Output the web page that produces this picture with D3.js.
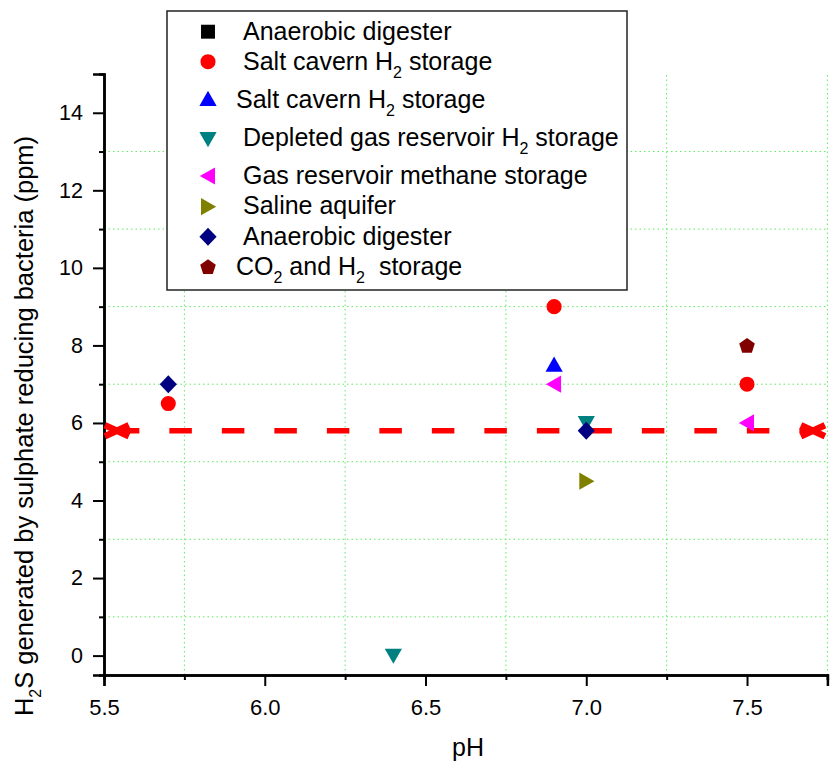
<!DOCTYPE html>
<html lang="en">
<head>
  <meta charset="UTF-8">
  <title>H2S vs pH</title>
  <script src="https://d3js.org/d3.v7.min.js"></script>
  <style>
    body { margin: 0; padding: 0; background: #fff; }
    svg { display: block; font-family: "Liberation Sans", Arial, sans-serif; }
  </style>
</head>
<body>
  <div id="vis"></div>
  <script>
    const width = 833, height = 765;

    // data
    const xMajorTicks = [5.5, 6.0, 6.5, 7.0, 7.5];
    const xMinorTicks = [5.75, 6.25, 6.75, 7.25, 7.75];
    const yMajorTicks = [0, 2, 4, 6, 8, 10, 12, 14];
    const yMinorTicks = [1, 3, 5, 7, 9, 11, 13];

    const seriesNames = [
      [["Anaerobic digester"]],
      [["Salt cavern H"], ["2", true], [" storage"]],
      [["Salt cavern H"], ["2", true], [" storage"]],
      [["Depleted gas reservoir H"], ["2", true], [" storage"]],
      [["Gas reservoir methane storage"]],
      [["Saline aquifer"]],
      [["Anaerobic digester"]],
      [["CO"], ["2", true], [" and H"], ["2", true], ["  storage"]]
    ];
    const seriesShapes = ["square", "circle", "triUp", "triDown", "triLeft", "triRight", "diamond", "pentagon"];
    const seriesColors = ["#000000", "#ff0000", "#0000ff", "#008080", "#ff00ff", "#808000", "#000080", "#800000"];
    const seriesPoints = [
      [],
      [[5.7, 6.5], [6.9, 9], [7.5, 7]],
      [[6.9, 7.5]],
      [[6.4, 0], [7.0, 6.0]],
      [[6.9, 7], [7.5, 6]],
      [[7.0, 4.5]],
      [[5.7, 7], [7.0, 5.8]],
      [[7.5, 8]]
    ];

    const limitLevel = 5.8;
    const limitRange = [5.54, 7.705];

    const x = d3.scaleLinear().domain([5.5, 7.75]).range([104, 827.4]);
    const y = d3.scaleLinear().domain([-0.5, 15]).range([675, 74]);

    const svg = d3.select("#vis").append("svg")
      .attr("width", width)
      .attr("height", height);

    // grid on minor ticks
    const grid = svg.append("g")
      .attr("stroke", "#5eea5e")
      .attr("stroke-width", 1)
      .attr("stroke-dasharray", "1.5,3");
    grid.selectAll("line.vg").data(xMinorTicks).enter().append("line")
      .attr("x1", d => x(d)).attr("x2", d => x(d))
      .attr("y1", y(-0.5)).attr("y2", y(15));
    grid.selectAll("line.hg").data(yMinorTicks).enter().append("line")
      .attr("x1", x(5.5)).attr("x2", x(7.75))
      .attr("y1", d => y(d)).attr("y2", d => y(d));

    // axes
    const xAxis = d3.axisBottom(x).tickValues(xMajorTicks).tickFormat(d3.format(".1f"))
      .tickSize(11).tickPadding(13);
    const xMinor = d3.axisBottom(x).tickValues(xMinorTicks).tickFormat("").tickSize(5);
    const yAxis = d3.axisLeft(y).tickValues(yMajorTicks).tickFormat(d3.format("d"))
      .tickSize(11).tickPadding(10);
    const yMinor = d3.axisLeft(y).tickValues(yMinorTicks).tickFormat("").tickSize(5);

    function styleAxis(g, fontSize) {
      g.select(".domain").attr("stroke", "#000").attr("stroke-width", 2.5);
      g.selectAll(".tick line").attr("stroke", "#000").attr("stroke-width", 2);
      g.selectAll(".tick text").attr("fill", "#000").style("font-size", fontSize + "px")
        .style("font-family", "'Liberation Sans', Arial, sans-serif");
    }

    svg.append("g").attr("transform", `translate(0,${y(-0.5)})`).call(xMinor).call(g => styleAxis(g, 22));
    svg.append("g").attr("transform", `translate(0,${y(-0.5)})`).call(xAxis).call(g => styleAxis(g, 22));
    svg.append("g").attr("transform", `translate(${x(5.5)},0)`).call(yMinor).call(g => styleAxis(g, 21.5));
    svg.append("g").attr("transform", `translate(${x(5.5)},0)`).call(yAxis).call(g => styleAxis(g, 21.5));

    // axis titles
    svg.append("text")
      .attr("x", 468).attr("y", 756)
      .attr("text-anchor", "middle")
      .style("font-size", "25px")
      .text("pH");

    const yTitle = svg.append("text")
      .attr("transform", "translate(33,426) rotate(-90)")
      .attr("text-anchor", "middle")
      .style("font-size", "25.5px");
    yTitle.append("tspan").text("H");
    yTitle.append("tspan").text("2").style("font-size", "16px").attr("dy", 8);
    yTitle.append("tspan").text("S generated by sulphate reducing bacteria (ppm)").attr("dy", -8);

    // reference line with X end markers
    svg.append("line")
      .attr("x1", x(limitRange[0])).attr("x2", x(limitRange[1]))
      .attr("y1", y(limitLevel)).attr("y2", y(limitLevel))
      .attr("stroke", "#ff0000")
      .attr("stroke-width", 5.5)
      .attr("stroke-dasharray", "22.5,30");

    svg.selectAll("path.xmark").data(limitRange).enter().append("path")
      .attr("class", "xmark")
      .attr("transform", d => `translate(${x(d)},${y(limitLevel)})`)
      .attr("d", "M-12,-5.5L12,5.5M-12,5.5L12,-5.5")
      .attr("stroke", "#ff0000")
      .attr("stroke-width", 6.5)
      .attr("fill", "none");

    // marker shapes
    function shapePath(shape, s) {
      const tri = (pts) => "M" + pts.map(p => p.join(",")).join("L") + "Z";
      switch (shape) {
        case "square": return `M${-s * 0.85},${-s * 0.85}H${s * 0.85}V${s * 0.85}H${-s * 0.85}Z`;
        case "circle": return d3.arc()({ innerRadius: 0, outerRadius: s * 0.92, startAngle: 0, endAngle: 2 * Math.PI });
        case "triUp": return tri([[0, -s], [s * 1.05, s * 0.85], [-s * 1.05, s * 0.85]]);
        case "triDown": return tri([[0, s], [s * 1.05, -s * 0.85], [-s * 1.05, -s * 0.85]]);
        case "triLeft": return tri([[-s, 0], [s * 0.85, -s * 1.05], [s * 0.85, s * 1.05]]);
        case "triRight": return tri([[s, 0], [-s * 0.85, -s * 1.05], [-s * 0.85, s * 1.05]]);
        case "diamond": return tri([[0, -s * 1.1], [s * 1.05, 0], [0, s * 1.1], [-s * 1.05, 0]]);
        case "pentagon": {
          const pts = d3.range(5).map(i => {
            const a = -Math.PI / 2 + i * 2 * Math.PI / 5;
            return [s * Math.cos(a), s * 0.08 + s * Math.sin(a)];
          });
          return tri(pts);
        }
      }
    }

    const markerSize = 8.2;
    seriesPoints.forEach((pts, i) => {
      svg.selectAll(`path.s${i}`).data(pts).enter().append("path")
        .attr("class", `s${i}`)
        .attr("transform", d => `translate(${x(d[0])},${y(d[1])})`)
        .attr("d", shapePath(seriesShapes[i], markerSize))
        .attr("fill", seriesColors[i]);
    });

    // legend
    const legend = svg.append("g");
    legend.append("rect")
      .attr("x", 167).attr("y", 11)
      .attr("width", 460).attr("height", 279)
      .attr("fill", "#fff")
      .attr("stroke", "#222")
      .attr("stroke-width", 1.5);

    const legendSymbolY = [31.7, 61.7, 99, 139, 176, 206.7, 236.7, 266.7];
    const legendBaseline = [39.5, 70, 108, 146, 184, 214, 245, 275];
    const legendTextX = [243, 243, 236, 243, 243, 243, 243, 236];

    seriesNames.forEach((parts, i) => {
      legend.append("path")
        .attr("transform", `translate(208,${legendSymbolY[i]})`)
        .attr("d", shapePath(seriesShapes[i], markerSize))
        .attr("fill", seriesColors[i]);
      const t = legend.append("text")
        .attr("x", legendTextX[i]).attr("y", legendBaseline[i])
        .style("font-size", "25px")
        .attr("xml:space", "preserve")
        .style("white-space", "pre");
      let down = false;
      parts.forEach(([txt, sub]) => {
        const sp = t.append("tspan").text(txt);
        if (sub) { sp.style("font-size", "16px").attr("dy", 8); down = true; }
        else if (down) { sp.attr("dy", -8); down = false; }
      });
    });
  </script>
</body>
</html>
